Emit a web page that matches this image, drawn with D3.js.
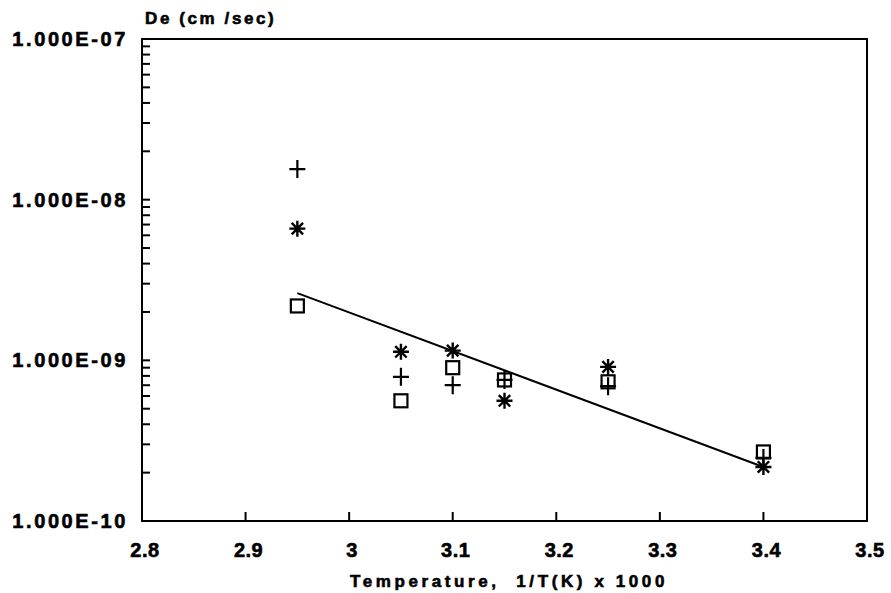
<!DOCTYPE html>
<html><head><meta charset="utf-8">
<script src="https://cdn.jsdelivr.net/npm/d3@7"></script>
<style>
body{margin:0;background:#fff;}
svg text{font-family:"Liberation Sans","DejaVu Sans",Arial,sans-serif;font-weight:700;fill:#000;stroke:#000;stroke-width:0.6px;}
</style></head>
<body><svg id="c" width="891" height="593"></svg>
<script>
// Data
const xTicks = [2.8, 2.9, 3.0, 3.1, 3.2, 3.3, 3.4, 3.5];
const xTickLabels = ["2.8", "2.9", "3", "3.1", "3.2", "3.3", "3.4", "3.5"];
const yTicks = [1e-10, 1e-9, 1e-8, 1e-7];
const yTickLabels = ["1.000E-10", "1.000E-09", "1.000E-08", "1.000E-07"];
const xVals = [2.95, 3.05, 3.10, 3.15, 3.25, 3.40];
const plusVals = [1.55e-8, 7.9e-10, 7.0e-10, 7.55e-10, 6.9e-10, 2.47e-10];
const starVals = [6.6e-9, 1.13e-9, 1.15e-9, 5.6e-10, 9.1e-10, 2.17e-10];
const squareVals = [2.18e-9, 5.6e-10, 9.0e-10, 7.55e-10, 7.35e-10, 2.69e-10];
const fitX = [2.95, 3.40];
const fitY = [2.62e-9, 2.17e-10];

const svg = d3.select("#c");
const L = 142, R = 867, T = 39, B = 521;
const x = d3.scaleLinear().domain([2.8, 3.5]).range([L, R]);
const y = d3.scaleLog().domain([1e-10, 1e-7]).range([B, T]);

// frame
svg.append("rect").attr("x", L).attr("y", T).attr("width", R - L).attr("height", B - T)
  .attr("fill", "none").attr("stroke", "#000").attr("stroke-width", 2);

// y minor/major ticks (inward)
const yAllTicks = [];
for (let e = -10; e < -7; e++) for (let m = 1; m <= 9; m++) yAllTicks.push(m * Math.pow(10, e));
svg.append("g").selectAll("line").data(yAllTicks.filter(v => v > 1e-10)).join("line")
  .attr("x1", L).attr("x2", L + 8).attr("y1", d => y(d)).attr("y2", d => y(d))
  .attr("stroke", "#000").attr("stroke-width", 2);

// x ticks (inward)
svg.append("g").selectAll("line").data(xTicks.slice(1, -1)).join("line")
  .attr("x1", d => x(d)).attr("x2", d => x(d)).attr("y1", B).attr("y2", B - 9)
  .attr("stroke", "#000").attr("stroke-width", 2);

// y labels
svg.append("g").selectAll("text").data(yTicks).join("text")
  .attr("x", L - 14).attr("y", d => y(d) + 7)
  .attr("text-anchor", "end").attr("font-size", 20).attr("letter-spacing", 2.6)
  .text((d, i) => yTickLabels[i]);

// x labels
svg.append("g").selectAll("text").data(xTicks).join("text")
  .attr("x", d => x(d) + 3).attr("y", 557)
  .attr("text-anchor", "middle").attr("font-size", 20).attr("letter-spacing", 0.5)
  .text((d, i) => xTickLabels[i]);

// titles
svg.append("text").attr("x", 145).attr("y", 24).attr("font-size", 17).attr("letter-spacing", 2.6)
  .text("De (cm /sec)");
svg.append("text").attr("x", 509).attr("y", 587).attr("text-anchor", "middle")
  .attr("font-size", 17).attr("letter-spacing", 3.6).attr("xml:space", "preserve")
  .text("Temperature,  1/T(K) x 1000");

// fit line
svg.append("path").datum(fitX.map((v, i) => [v, fitY[i]]))
  .attr("d", d3.line().x(d => x(d[0])).y(d => y(d[1])))
  .attr("stroke", "#000").attr("stroke-width", 2).attr("fill", "none");

// markers
const pts = (vals) => xVals.map((v, i) => [x(v), y(vals[i])]);
const g = svg.append("g").attr("stroke", "#000").attr("fill", "none");
g.selectAll(".sq").data(pts(squareVals)).join("rect").attr("class", "sq")
  .attr("x", d => d[0] - 6.5).attr("y", d => d[1] - 6.5).attr("width", 13).attr("height", 13)
  .attr("stroke-width", 2.2);
g.selectAll(".pl").data(pts(plusVals)).join("path").attr("class", "pl")
  .attr("d", d => `M${d[0]-8},${d[1]}H${d[0]+8}M${d[0]},${d[1]-9}V${d[1]+9}`)
  .attr("stroke-width", 2.2);
g.selectAll(".st").data(pts(starVals)).join("path").attr("class", "st")
  .attr("d", d => {
    const r = 8, q = 5.7;
    return `M${d[0]-r},${d[1]}H${d[0]+r}M${d[0]},${d[1]-r}V${d[1]+r}` +
      `M${d[0]-q},${d[1]-q}L${d[0]+q},${d[1]+q}M${d[0]-q},${d[1]+q}L${d[0]+q},${d[1]-q}`;
  })
  .attr("stroke-width", 2.4);
</script></body></html>
